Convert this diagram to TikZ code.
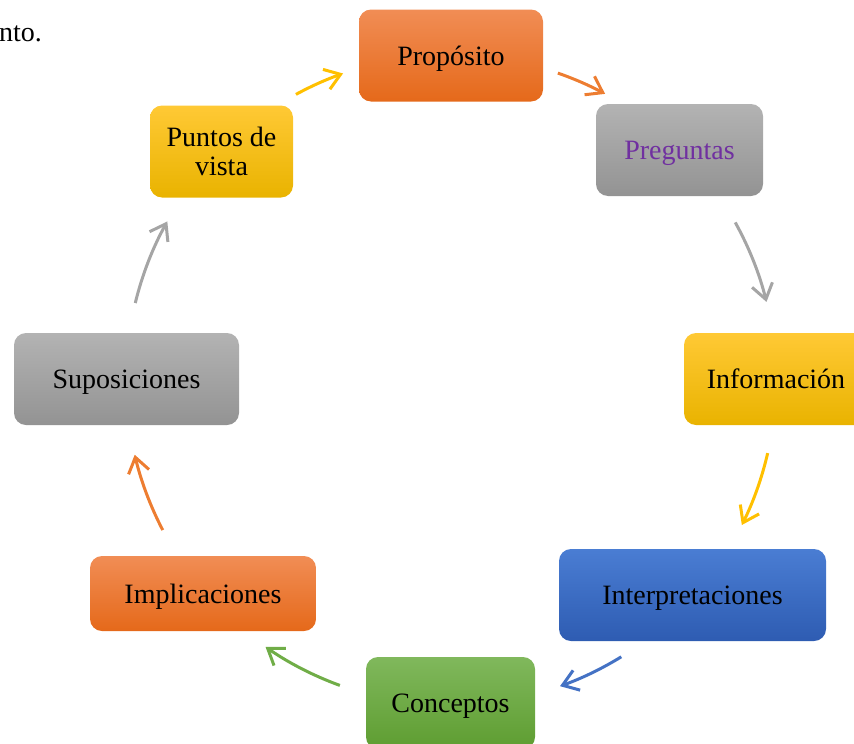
\documentclass[tikz,border=0pt]{standalone}
\usepackage{fontspec}
\setmainfont{Liberation Serif}
\usetikzlibrary{arrows.meta,calc,positioning}

\definecolor{orgtop}{HTML}{F18D55}
\definecolor{orgbot}{HTML}{E5691A}
\definecolor{grytop}{HTML}{B3B3B3}
\definecolor{grybot}{HTML}{939393}
\definecolor{ylwtop}{HTML}{FFC935}
\definecolor{ylwbot}{HTML}{E9B300}
\definecolor{blutop}{HTML}{4A7DD3}
\definecolor{blubot}{HTML}{2E5CB2}
\definecolor{grntop}{HTML}{80B85C}
\definecolor{grnbot}{HTML}{5E9D31}
\definecolor{ylwline}{HTML}{FFC000}
\definecolor{orgline}{HTML}{ED7D31}
\definecolor{gryline}{HTML}{A5A5A5}
\definecolor{bluline}{HTML}{4472C4}
\definecolor{grnline}{HTML}{70AD47}
\definecolor{purptext}{HTML}{7030A0}

\begin{document}
\begin{tikzpicture}[
        x=1pt, y=1pt,
        card/.style={rectangle, rounded corners=12pt, minimum height=92pt, text centered, align=center, font=\fontsize{28}{31}\selectfont},
        box/.style={card, text height=25pt, text depth=6pt},
        org/.style={top color=orgtop, bottom color=orgbot},
        gry/.style={top color=grytop, bottom color=grybot},
        ylw/.style={top color=ylwtop, bottom color=ylwbot},
        blu/.style={top color=blutop, bottom color=blubot},
        grn/.style={top color=grntop, bottom color=grnbot},
        arrow/.style={-{Straight Barb[length=15pt, width=21pt]}, line width=3pt}
    ]
    \useasboundingbox (0,0) rectangle (854,-744);
    \clip (0,0) rectangle (854,-744);

    % fragment of the preceding line
    \node[anchor=base west, inner sep=0pt, font=\fontsize{28}{31}\selectfont] (frag) at (-1,-41) {nto.};

    \node[box, org, minimum width=184pt] (prop) at (451,-55.5) {Propósito};
    \node[box, gry, minimum width=167pt, text=purptext] (preg) at (679.5,-150) {Preguntas};
    \node[box, ylw, minimum width=184pt] (info) at (776,-379) {Información};
    \node[box, blu, minimum width=267pt] (interp) at (692.5,-595) {Interpretaciones};
    \node[box, grn, minimum width=169pt] (conc) at (450.5,-703) {Conceptos};
    \node[box, org, minimum width=226pt, minimum height=75pt] (impl) at (203,-593.5) {Implicaciones};
    \node[box, gry, minimum width=225pt] (supo) at (126.5,-379) {Suposiciones};
    \node[card, ylw, minimum width=143pt] (punt) at (221.5,-151.5) {Puntos de\\[-2pt]vista};

    % cycle arrows, all on one circle
    \coordinate (c) at (451,-380);
    \coordinate (s1) at ($(c)+(118.5:325)$);
    \coordinate (s2) at ($(c)+(70.8:325)$);
    \coordinate (s3) at ($(c)+(29:325)$);
    \coordinate (s4) at ($(c)+(-13:325)$);
    \coordinate (s5) at ($(c)+(-58.4:325)$);
    \coordinate (s6) at ($(c)+(250:325)$);
    \coordinate (s7) at ($(c)+(207.5:325)$);
    \coordinate (s8) at ($(c)+(166.3:325)$);

    \draw[arrow, color=ylwline] (s1) arc[start angle=118.5, end angle=109.4, radius=325];
    \draw[arrow, color=orgline] (s2) arc[start angle=70.8, end angle=61.7, radius=325];
    \draw[arrow, color=gryline] (s3) arc[start angle=29, end angle=13.9, radius=325];
    \draw[arrow, color=ylwline] (s4) arc[start angle=-13, end angle=-26.5, radius=325];
    \draw[arrow, color=bluline] (s5) arc[start angle=-58.4, end angle=-70.4, radius=325];
    \draw[arrow, color=grnline] (s6) arc[start angle=250, end angle=235.2, radius=325];
    \draw[arrow, color=orgline] (s7) arc[start angle=207.5, end angle=193.3, radius=325];
    \draw[arrow, color=gryline] (s8) arc[start angle=166.3, end angle=150.8, radius=325];

\end{tikzpicture}
\end{document}
